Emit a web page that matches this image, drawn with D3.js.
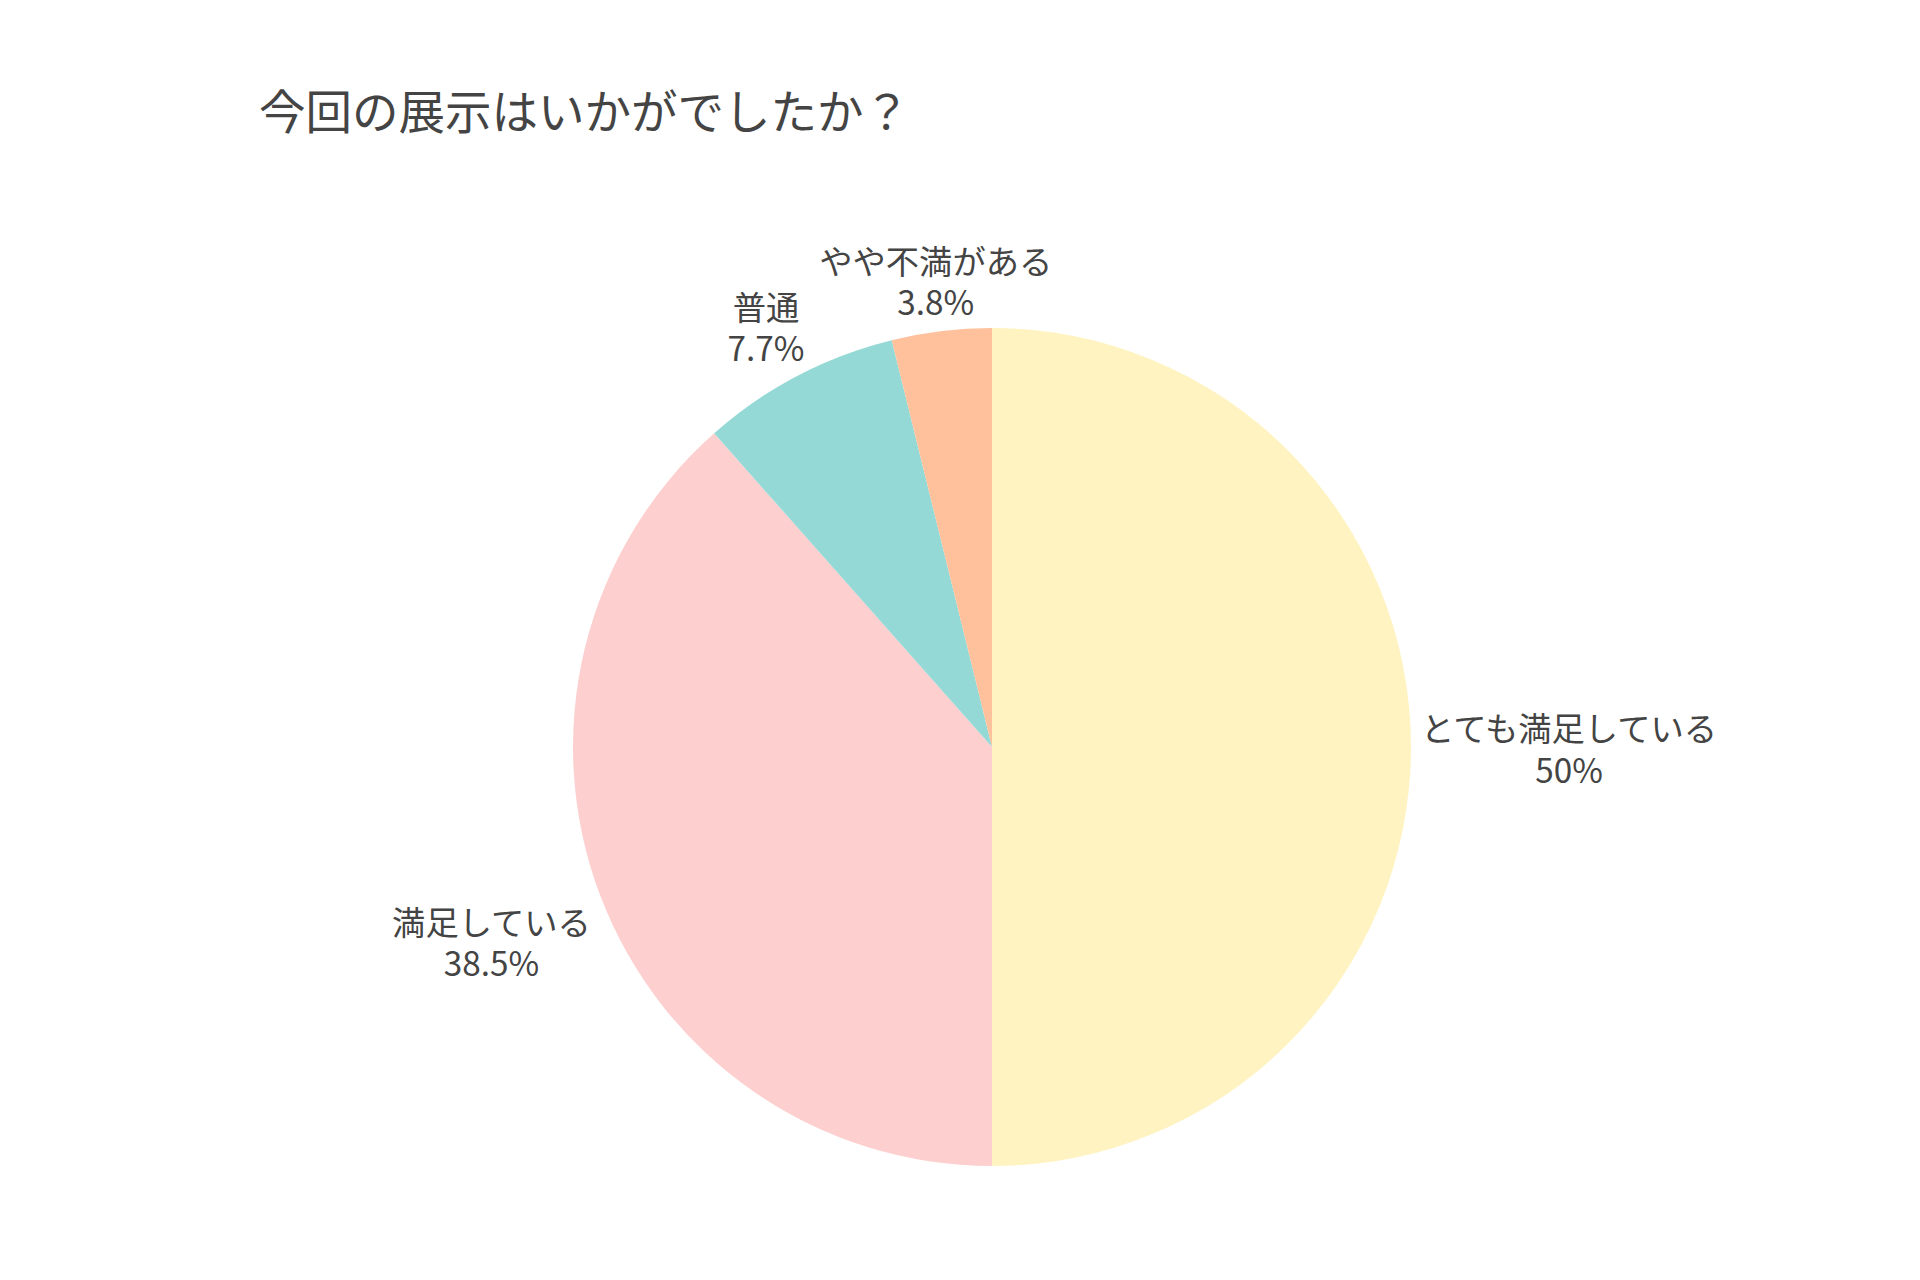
<!DOCTYPE html>
<html>
<head>
<meta charset="utf-8">
<script src="https://cdn.jsdelivr.net/npm/d3@7"></script>
<style>
  html, body { margin: 0; padding: 0; background: #fff; }
  svg { display: block; }
  text { font-family: "Noto Sans CJK JP", "Noto Sans", sans-serif; fill: #444; }
</style>
</head>
<body>
<svg id="chart" width="1920" height="1280"></svg>
<script>
const title = "今回の展示はいかがでしたか？";
const categories = ["とても満足している", "満足している", "普通", "やや不満がある"];
const values = [13, 10, 2, 1];
const percentLabels = ["50%", "38.5%", "7.7%", "3.8%"];
const colors = ["#FFF3C2", "#FDCFCF", "#94D9D6", "#FFC19C"];

const W = 1920, H = 1280;
const cx = 992, cy = 747, R = 419;
const svg = d3.select("#chart");

svg.append("text")
  .attr("x", 259).attr("y", 108)
  .attr("dominant-baseline", "central")
  .style("font-size", "46.5px")
  .text(title);

const pie = d3.pie().sort(null).value(d => d.v);
const arc = d3.arc().innerRadius(0).outerRadius(R);
const data = categories.map((c, i) => ({ c, v: values[i], p: percentLabels[i], col: colors[i] }));
const arcs = pie(data);

const g = svg.append("g").attr("transform", `translate(${cx},${cy})`);
g.selectAll("path").data(arcs).join("path")
  .attr("d", arc)
  .attr("fill", d => d.data.col);

const fs = 33.3, lh = 41.5, gap = 10;
const lg = svg.append("g");
arcs.forEach(a => {
  const ang = (a.startAngle + a.endAngle) / 2;
  const s = Math.sin(ang), c = -Math.cos(ang);
  const px = cx + (R + gap) * s, py = cy + (R + gap) * c;
  const t = lg.append("text").style("font-size", fs + "px").attr("text-anchor", "middle");
  t.append("tspan").attr("x", 0).attr("dy", 0).text(a.data.c);
  t.append("tspan").attr("x", 0).attr("dy", lh).text(a.data.p);
  const bb = t.node().getBBox();
  const hw = bb.width / 2, hh = (lh * 2) / 2;
  const hs = Math.sign(s) * Math.min(1, Math.max(0, (Math.abs(s) - 0.1) * 1.9));
  const vs = Math.max(-1, Math.min(1, c * 3));
  const centerX = px + hw * hs;
  const centerY = py + hh * vs;
  t.attr("transform", `translate(${centerX},${centerY - lh / 2})`)
   .attr("dominant-baseline", "central");
  t.selectAll("tspan").attr("dominant-baseline", "central");
});
</script>
</body>
</html>
